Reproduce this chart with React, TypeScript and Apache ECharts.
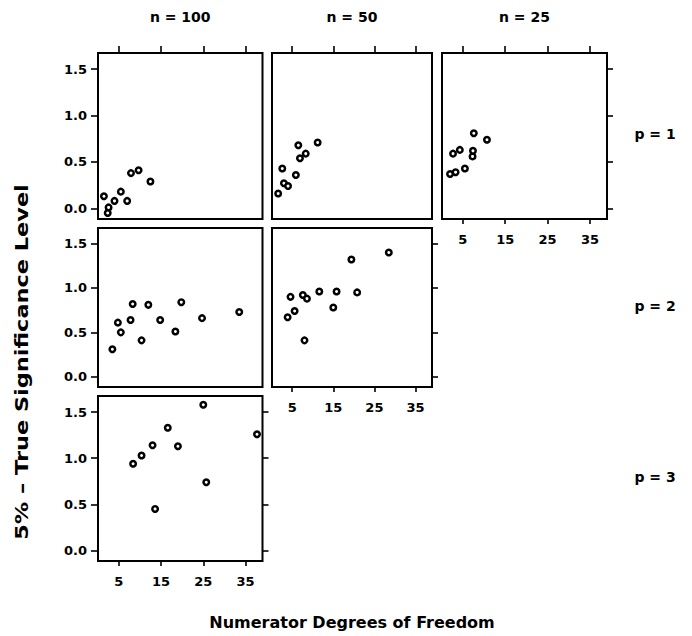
import React, { useEffect, useRef } from "react";
import * as echarts from "echarts";

// ---- data ----
const columnLabels = ["n = 100", "n = 50", "n = 25"];
const rowLabels = ["p = 1", "p = 2", "p = 3"];
const xTicks = [5, 15, 25, 35];
const yTicks = [0, 0.5, 1.0, 1.5];

const p1n100X = [1.5, 2.6, 2.4, 4.0, 5.5, 7.0, 7.9, 9.7, 12.5];
const p1n100Y = [0.13, 0.01, -0.05, 0.08, 0.18, 0.08, 0.38, 0.41, 0.29];

const p1n50X = [1.6, 2.6, 3.0, 4.0, 5.9, 6.5, 6.9, 8.3, 11.2];
const p1n50Y = [0.16, 0.43, 0.27, 0.24, 0.36, 0.68, 0.54, 0.59, 0.71];

const p1n25X = [2.0, 3.3, 5.5, 2.7, 4.3, 7.3, 7.4, 7.6, 10.7];
const p1n25Y = [0.37, 0.39, 0.43, 0.59, 0.63, 0.56, 0.62, 0.81, 0.74];

const p2n100X = [3.5, 4.8, 5.5, 7.8, 8.3, 10.4, 12.0, 14.8, 18.4, 19.8, 24.7, 33.5];
const p2n100Y = [0.31, 0.61, 0.5, 0.64, 0.82, 0.41, 0.81, 0.64, 0.51, 0.84, 0.66, 0.73];

const p2n50X = [3.9, 4.6, 5.6, 7.6, 8.6, 8.0, 11.6, 15.0, 15.8, 19.4, 20.8, 28.5];
const p2n50Y = [0.67, 0.9, 0.74, 0.92, 0.88, 0.41, 0.96, 0.78, 0.96, 1.32, 0.95, 1.4];

const p3n100X = [8.4, 10.4, 13.0, 13.6, 16.6, 19.0, 25.0, 25.7, 37.7];
const p3n100Y = [0.94, 1.03, 1.14, 0.45, 1.33, 1.13, 1.58, 0.74, 1.26];

// panels: row (p index), col (n index), data
const panels = [
  { row: 0, col: 0, xs: p1n100X, ys: p1n100Y },
  { row: 0, col: 1, xs: p1n50X, ys: p1n50Y },
  { row: 0, col: 2, xs: p1n25X, ys: p1n25Y },
  { row: 1, col: 0, xs: p2n100X, ys: p2n100Y },
  { row: 1, col: 1, xs: p2n50X, ys: p2n50Y },
  { row: 2, col: 0, xs: p3n100X, ys: p3n100Y },
];

// ---- layout ----
const X_MIN = 0.1;
const X_MAX = 39;
const Y_MIN = -0.115;
const Y_MAX = 1.675;
const colLeft = [98, 272, 442];
const colWidth = [164.5, 160, 165];
const rowTop = [53, 228, 396];
const rowHeight = [166, 159, 165];

const FONT = "DejaVu Sans";

export default function App() {
  const ref = useRef<HTMLDivElement>(null);

  useEffect(() => {
    if (!ref.current) return;
    const chart = echarts.init(ref.current, undefined, { renderer: "svg" });

    const grid: any[] = [];
    const xAxis: any[] = [];
    const yAxis: any[] = [];
    const series: any[] = [];

    const tickStyle = { color: "#000", width: 1.6 };
    const labelStyle = {
      color: "#000",
      fontFamily: FONT,
      fontWeight: "bold",
      fontSize: 13,
    };

    panels.forEach((p, i) => {
      const isColBottom = p.row + p.col === 2;
      grid.push({
        left: colLeft[p.col],
        top: rowTop[p.row],
        width: colWidth[p.col],
        height: rowHeight[p.row],
        show: true,
        borderColor: "#000",
        borderWidth: 2,
        backgroundColor: "transparent",
      });
      // bottom x axis (used by series)
      xAxis.push({
        type: "value",
        gridIndex: i,
        position: "bottom",
        min: X_MIN,
        max: X_MAX,
        splitLine: { show: false },
        axisLine: { show: false, onZero: false },
        axisTick: {
          show: isColBottom,
          customValues: xTicks,
          length: 5,
          lineStyle: tickStyle,
        },
        axisLabel: {
          show: isColBottom,
          customValues: xTicks,
          margin: 14,
          ...labelStyle,
        },
      });
      // top x axis (ticks only, top row)
      xAxis.push({
        type: "value",
        gridIndex: i,
        position: "top",
        min: X_MIN,
        max: X_MAX,
        splitLine: { show: false },
        axisLine: { show: false, onZero: false },
        axisTick: {
          show: p.row === 0,
          customValues: xTicks,
          length: 7,
          lineStyle: tickStyle,
        },
        axisLabel: { show: false },
      });
      // left y axis (used by series)
      yAxis.push({
        type: "value",
        gridIndex: i,
        position: "left",
        min: Y_MIN,
        max: Y_MAX,
        splitLine: { show: false },
        axisLine: { show: false, onZero: false },
        axisTick: {
          show: p.col === 0,
          customValues: yTicks,
          length: 7,
          lineStyle: tickStyle,
        },
        axisLabel: {
          show: p.col === 0,
          customValues: yTicks,
          margin: 11,
          formatter: (v: number) => v.toFixed(1),
          ...labelStyle,
        },
      });
      // right y axis (ticks only, panel at right end of its row)
      yAxis.push({
        type: "value",
        gridIndex: i,
        position: "right",
        min: Y_MIN,
        max: Y_MAX,
        splitLine: { show: false },
        axisLine: { show: false, onZero: false },
        axisTick: {
          show: isColBottom,
          customValues: yTicks,
          length: 6,
          lineStyle: tickStyle,
        },
        axisLabel: { show: false },
      });
      series.push({
        type: "scatter",
        xAxisIndex: i * 2,
        yAxisIndex: i * 2,
        data: p.xs.map((x, k) => [x, p.ys[k]]),
        symbol: "circle",
        symbolSize: 5.5,
        itemStyle: { color: "#fff", borderColor: "#000", borderWidth: 2.5, opacity: 1 },
        silent: true,
      });
    });

    const textStyle = (size: number) => ({
      fill: "#000",
      fontFamily: FONT,
      fontWeight: "bold",
      fontSize: size,
    });

    const graphic: any[] = [];
    columnLabels.forEach((t, c) => {
      graphic.push({
        type: "text",
        x: colLeft[c] + colWidth[c] / 2,
        y: 17,
        style: { text: t, align: "center", verticalAlign: "middle", ...textStyle(14) },
      });
    });
    rowLabels.forEach((t, r) => {
      graphic.push({
        type: "text",
        x: 655,
        y: rowTop[r] + rowHeight[r] / 2 - 2,
        style: { text: t, align: "center", verticalAlign: "middle", ...textStyle(14) },
      });
    });
    graphic.push({
      type: "text",
      x: 352,
      y: 622,
      style: {
        text: "Numerator Degrees of Freedom",
        align: "center",
        verticalAlign: "middle",
        ...textStyle(16),
      },
    });
    graphic.push({
      type: "text",
      x: 22,
      y: 362,
      rotation: Math.PI / 2,
      scaleX: 1.32,
      style: {
        text: "5% \u2013 True Significance Level",
        align: "center",
        verticalAlign: "middle",
        ...textStyle(17),
      },
    });

    chart.setOption({
      animation: false,
      backgroundColor: "#fff",
      grid,
      xAxis,
      yAxis,
      series,
      graphic,
    });

    return () => chart.dispose();
  }, []);

  return (
    <div
      ref={ref}
      style={{ position: "fixed", left: 0, top: 0, width: 692, height: 636 }}
    />
  );
}
